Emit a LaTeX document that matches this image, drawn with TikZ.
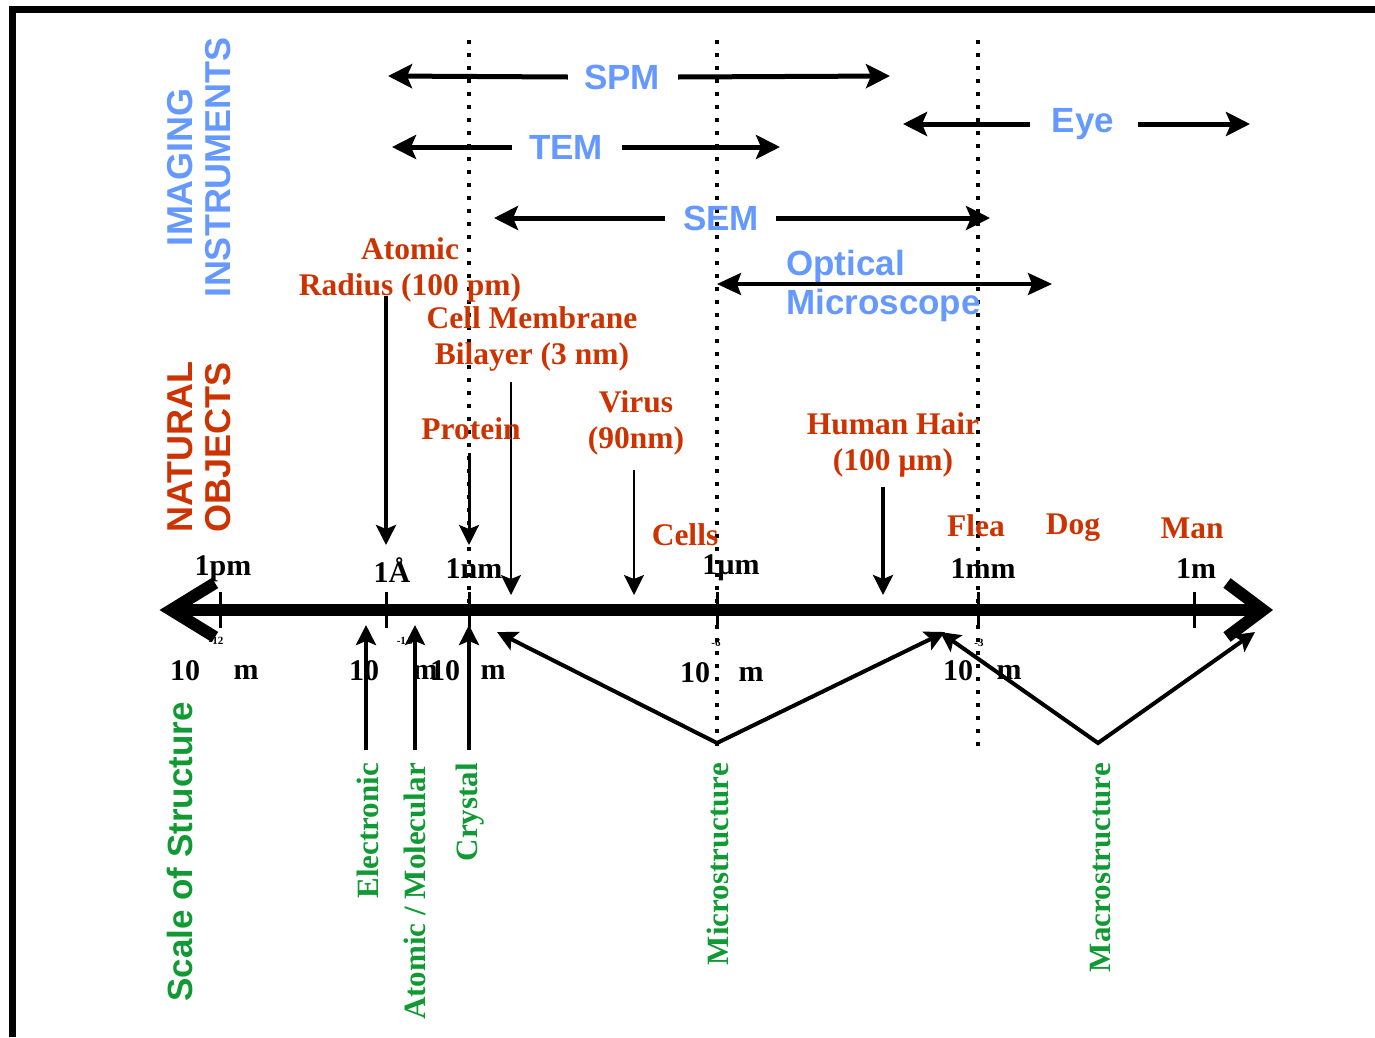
\documentclass[tikz,border=0pt]{standalone}
\usepackage{fontspec}
\setmainfont{Liberation Serif}
\setsansfont{Liberation Sans}
\usetikzlibrary{arrows.meta}
\definecolor{instblue}{HTML}{6699FF}
\definecolor{objred}{HTML}{CC3300}
\definecolor{structgreen}{HTML}{119933}
\begin{document}
\begin{tikzpicture}[x=1pt,y=-1pt,
 inst/.style={font=\sffamily\bfseries\fontsize{35}{38}\selectfont,text=instblue,inner sep=0pt},
 obj/.style={font=\bfseries\fontsize{31.5}{36}\selectfont,text=objred,inner sep=0pt,align=center},
 axl/.style={font=\bfseries\fontsize{30}{32}\selectfont,text=black,inner sep=0pt},
 expo/.style={font=\bfseries\fontsize{11}{12}\selectfont,inner sep=0pt},
 strlbl/.style={font=\bfseries\fontsize{31}{32}\selectfont,text=structgreen,inner sep=0pt,rotate=90,anchor=east},
 side/.style={font=\sffamily\bfseries\fontsize{36}{38}\selectfont,inner sep=0pt,rotate=90,align=center},
 instarr/.style={line width=5pt,-{Stealth[length=24pt,width=24pt,inset=5pt]}},
 objarr/.style={-{Stealth[length=20pt,width=20pt,inset=4pt]}},
 strarr/.style={line width=4pt},
 dotline/.style={line width=4pt,dash pattern=on 4pt off 9pt},
 tickline/.style={line width=3pt},
 chevron/.style={line width=12pt,line join=miter},
]
\useasboundingbox (0,0) rectangle (1375,1037);
% frame
\draw[line width=7pt] (12,1037) -- (12,9) -- (1375,9);

% dotted guide lines
\coordinate (d1t) at (469,40); \coordinate (d1b) at (469,625);
\coordinate (d2t) at (717,40); \coordinate (d2b) at (717,750);
\coordinate (d3t) at (978,40); \coordinate (d3b) at (978,750);
\draw[dotline] (d1t) -- (d1b);
\draw[dotline] (d2t) -- (d2b);
\draw[dotline] (d3t) -- (d3b);

% side titles
\node[side,text=instblue] (imgt) at (199,167) {IMAGING\\INSTRUMENTS};
\node[side,text=objred] (natt) at (199,447) {NATURAL\\OBJECTS};
\node[side,text=structgreen,font=\sffamily\bfseries\fontsize{35}{38}\selectfont] (sclt) at (180,852) {Scale of Structure};

% exponents (partly hidden)
\node[expo] (e1) at (216,641) {-12};
\node[expo] (e2) at (405,641) {-1\,0};
\node[expo] (e4) at (716,643) {-6};
\node[expo] (e5) at (979,643) {-3};

% axis
\coordinate (axL) at (171,610); \coordinate (axR) at (1263,610);
\draw[line width=12pt] (axL) -- (axR);
\draw[chevron] (215,583) -- (axL) -- (215,637);
\draw[chevron] (1227,583) -- (axR) -- (1227,637);
\foreach \t/\xx in {tpm/220,tang/386,tnm/469,tum/717,tmm/978,tm/1194}{
  \coordinate (\t a) at (\xx,592); \coordinate (\t b) at (\xx,628);
  \draw[tickline] (\t a) -- (\t b);
}

% axis labels above
\node[axl] (l1) at (223,569) {1pm};
\node[axl] (l2) at (392,570) {1Å};
\node[axl] (l3) at (474,569) {1nm};
\node[axl] (l4) at (731,568) {1µm};
\node[axl] (l5) at (983,569) {1mm};
\node[axl] (l6) at (1196,569) {1m};

% axis labels below
\node[axl] (b1a) at (185,671) {10}; \node[axl] (b1b) at (246,672) {m};
\node[axl] (b2a) at (364,671) {10}; \node[axl] (b2b) at (425,672) {m};
\node[axl] (b3a) at (445,671) {10}; \node[axl] (b3b) at (493,672) {m};
\node[axl] (b4a) at (695,673) {10}; \node[axl] (b4b) at (751,674) {m};
\node[axl] (b5a) at (958,671) {10}; \node[axl] (b5b) at (1009,672) {m};

% imaging instruments
\node[inst] (spm) at (622,77) {SPM};
\coordinate (spmL) at (388,76); \coordinate (spmR) at (890,76);
\draw[instarr] ([xshift=-16pt]spm.west) -- (spmL);
\draw[instarr] ([xshift=18pt]spm.east) -- (spmR);

\node[inst] (tem) at (566,147) {TEM};
\coordinate (temL) at (392,147); \coordinate (temR) at (780,147);
\draw[instarr] ([xshift=-17pt]tem.west) -- (temL);
\draw[instarr] ([xshift=19pt]tem.east) -- (temR);

\node[inst] (sem) at (721,218) {SEM};
\coordinate (semL) at (494,218); \coordinate (semR) at (990,218);
\draw[instarr] ([xshift=-18pt]sem.west) -- (semL);
\draw[instarr] ([xshift=17pt]sem.east) -- (semR);

\node[inst] (eye) at (1083,124) {Eye};
\coordinate (eyeL) at (903,124); \coordinate (eyeR) at (1250,124);
\draw[instarr] ([xshift=-22pt]eye.west) -- (eyeL);
\draw[instarr] ([xshift=24pt]eye.east) -- (eyeR);

\node[inst,font=\sffamily\bfseries\fontsize{35}{39}\selectfont,align=left,anchor=north west] (opt) at (786,250) {Optical\\Microscope};
\coordinate (optL) at (717,284); \coordinate (optR) at (1052,284);
\draw[line width=3.5pt,{Stealth[length=24pt,width=22pt,inset=4pt]}-{Stealth[length=24pt,width=22pt,inset=4pt]}] (optL) -- (optR);

% natural objects
\node[obj] (rad) at (410,270) {Atomic\\Radius (100 pm)};
\coordinate (radA) at (386,296); \coordinate (radB) at (386,545);
\draw[objarr,line width=4pt] (radA) -- (radB);

\node[obj] (mem) at (532,339) {Cell Membrane\\Bilayer (3 nm)};
\coordinate (memA) at (511,382); \coordinate (memB) at (511,595);
\draw[objarr,line width=2.5pt] (memA) -- (memB);

\node[obj] (pro) at (471,429) {Protein};
\coordinate (proA) at (469,453); \coordinate (proB) at (469,545);
\draw[objarr,line width=3pt] (proA) -- (proB);

\node[obj] (vir) at (636,423) {Virus\\(90nm)};
\coordinate (virA) at (634,470); \coordinate (virB) at (634,595);
\draw[objarr,line width=2.5pt] (virA) -- (virB);

\node[obj] (hair) at (893,445) {Human Hair\\(100 µm)};
\coordinate (hairA) at (883,487); \coordinate (hairB) at (883,595);
\draw[objarr,line width=3.5pt] (hairA) -- (hairB);

\node[obj] (cells) at (685,535) {Cells};
\node[obj] (flea) at (976,526) {Flea};
\node[obj] (dog) at (1073,528) {Dog};
\node[obj] (man) at (1192,528) {Man};

% scale of structure
\node[strlbl] (elec) at (368,763) {Electronic};
\node[strlbl] (atm) at (415,763) {Atomic / Molecular};
\node[strlbl] (cry) at (470,763) {Crystal};
\node[strlbl] (mic) at (718,763) {Microstructure};
\node[strlbl] (mac) at (1101,763) {Macrostructure};

\coordinate (elecB) at (366,750); \coordinate (elecT) at (366,625);
\coordinate (atmB) at (415,750); \coordinate (atmT) at (415,625);
\coordinate (cryB) at (469,750); \coordinate (cryT) at (469,625);
\draw[strarr,-{Stealth[length=20pt,width=20pt,inset=4pt]}] (elecB) -- (elecT);
\draw[strarr,-{Stealth[length=20pt,width=20pt,inset=4pt]}] (atmB) -- (atmT);
\draw[strarr,-{Stealth[length=20pt,width=20pt,inset=4pt]}] (cryB) -- (cryT);

\coordinate (micV) at (717,743); \coordinate (micL) at (497,632); \coordinate (micR) at (945,632);
\draw[strarr,{Stealth[length=20pt,width=20pt,inset=4pt]}-{Stealth[length=20pt,width=20pt,inset=4pt]}] (micL) -- (micV) -- (micR);
\coordinate (macV) at (1098,743); \coordinate (macL) at (940,632); \coordinate (macR) at (1255,632);
\draw[strarr,{Stealth[length=20pt,width=20pt,inset=4pt]}-{Stealth[length=20pt,width=20pt,inset=4pt]}] (macL) -- (macV) -- (macR);
\end{tikzpicture}
\end{document}
